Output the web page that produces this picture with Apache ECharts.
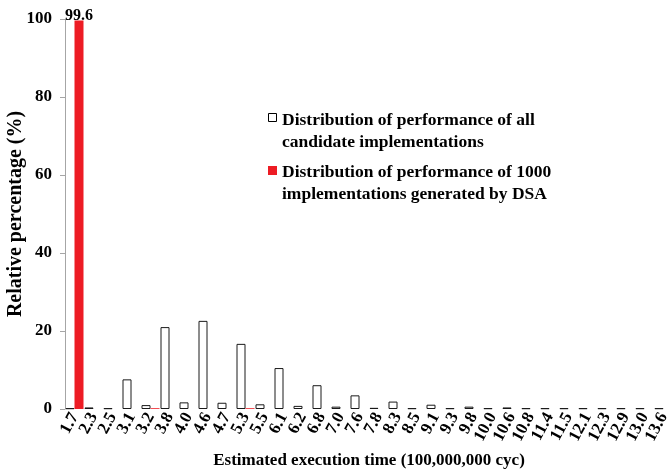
<!DOCTYPE html>
<html>
<head>
<meta charset="utf-8">
<script src="https://cdn.jsdelivr.net/npm/echarts@6/dist/echarts.min.js"></script>
<style>html,body{margin:0;padding:0;background:#fff}#c{width:669px;height:472px}</style>
</head>
<body>
<div id="c"></div>
<script>
var categories = ['1.7','2.3','2.5','3.1','3.2','3.8','4.0','4.6','4.7','5.3','5.5','6.1','6.2','6.8','7.0','7.6','7.8','8.3','8.5','9.1','9.3','9.8','10.0','10.6','10.8','11.4','11.5','12.1','12.3','12.9','13.0','13.6'];
var allCandidates = [0.2,0.4,0.2,7.6,1.0,21.0,1.7,22.6,1.6,16.7,1.2,10.5,0.8,6.1,0.6,3.5,0.3,1.9,0.2,1.1,0.2,0.6,0.2,0.4,0.2,0.2,0.2,0.2,0.2,0.2,0.2,0.2];
var dsaGenerated = [99.6,0,0,0,0.2,0,0,0,0,0.2,0,0,0,0,0,0,0,0,0,0,0,0,0,0,0,0,0,0,0,0,0,0];
var yTicks = [0,20,40,60,80,100];
var legendNames = ['Distribution of performance of all\ncandidate implementations','Distribution of performance of 1000\nimplementations generated by DSA'];

var FONT = '"Liberation Serif","Times New Roman",serif';
var chart = echarts.init(document.getElementById('c'), null, {renderer:'canvas'});
chart.setOption({
  animation:false,
  textStyle:{fontFamily:FONT},
  grid:{left:65, top:19, width:608, height:390, containLabel:false, outerBoundsMode:'none'},
  xAxis:{
    type:'category', data:categories,
    axisLine:{show:false}, axisTick:{show:false},
    axisLabel:{rotate:62, interval:0, fontFamily:FONT, fontWeight:'bold', fontSize:17, color:'#000', margin:5},
    name:'Estimated execution time (100,000,000 cyc)', nameLocation:'middle', nameGap:43,
    nameTextStyle:{fontFamily:FONT, fontWeight:'bold', fontSize:17, color:'#000'}
  },
  yAxis:{
    type:'value', min:yTicks[0], max:yTicks[yTicks.length-1], interval:20,
    axisLine:{show:true, lineStyle:{color:'#a6a6a6', width:1}},
    axisTick:{show:true, length:5, lineStyle:{color:'#a6a6a6'}},
    splitLine:{show:false},
    axisLabel:{fontFamily:FONT, fontWeight:'bold', fontSize:17, color:'#000', margin:13},
    name:'Relative percentage (%)', nameLocation:'middle', nameGap:39, nameMoveOverlap:false,
    nameTextStyle:{fontFamily:FONT, fontWeight:'bold', fontSize:20, color:'#000'}
  },
  series:[
    {name:legendNames[0], type:'bar', data:allCandidates, barWidth:9, barGap:'0%',
     itemStyle:{color:'#ffffff', borderColor:'#1a1a1a', borderWidth:1}},
    {name:legendNames[1], type:'bar', data:dsaGenerated, barWidth:9, barGap:'0%',
     itemStyle:{color:'#ed1c24'},
     label:{show:true, position:'top', distance:-3, fontFamily:FONT, fontWeight:'bold', fontSize:16, color:'#000',
       formatter:function(p){return p.value>50 ? p.value.toFixed(1) : '';}}}
  ],
  graphic:[
    {type:'rect', left:268, top:113, shape:{width:8, height:8}, style:{fill:'#fff', stroke:'#000', lineWidth:1}},
    {type:'text', left:282, top:109, style:{text:legendNames[0], font:'bold 17.5px '+FONT, fill:'#000', lineHeight:22}},
    {type:'rect', left:268, top:166, shape:{width:9, height:9}, style:{fill:'#ed1c24'}},
    {type:'text', left:282, top:161, style:{text:legendNames[1], font:'bold 17.5px '+FONT, fill:'#000', lineHeight:22}}
  ]
});
</script>
</body>
</html>
